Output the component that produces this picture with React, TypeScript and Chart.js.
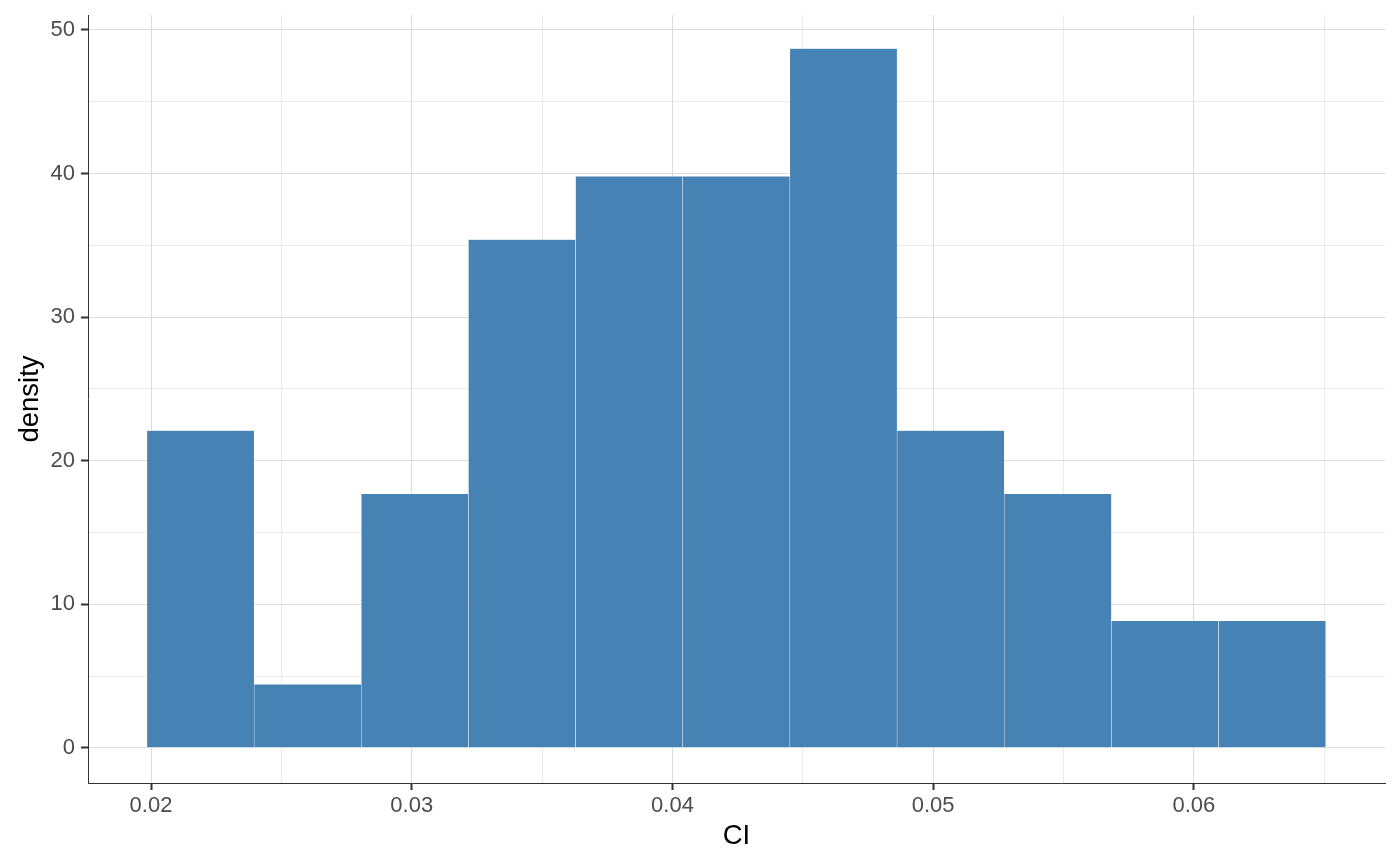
import React, { useEffect, useRef } from 'react';
import { Chart, registerables } from 'chart.js';

Chart.register(...registerables);

// Histogram bins (centres) and their densities
const binCenters = [0.0219, 0.02601, 0.03012, 0.03423, 0.03834, 0.04245, 0.04656, 0.05067, 0.05478, 0.05889, 0.063];
const densityValues = [22.1, 4.43, 17.7, 35.4, 39.8, 39.8, 48.7, 22.1, 17.7, 8.85, 8.85];

const xMajorTicks = [0.02, 0.03, 0.04, 0.05, 0.06];
const xMajorLabels = ['0.02', '0.03', '0.04', '0.05', '0.06'];
const xMinorTicks = [0.025, 0.035, 0.045, 0.055, 0.065];
const yMajorTicks = [0, 10, 20, 30, 40, 50];
const yMajorLabels = ['0', '10', '20', '30', '40', '50'];
const yMinorTicks = [5, 15, 25, 35, 45];

const X_MIN = 0.017583;
const X_MAX = 0.06733;
const Y_MIN = -2.44;
const Y_MAX = 51.04;

const FONT = '"Liberation Sans", Arial, sans-serif';

const findIndex = (arr: number[], v: number) => arr.findIndex((a) => Math.abs(a - v) < 1e-9);

export default function App() {
  const canvasRef = useRef<HTMLCanvasElement | null>(null);

  useEffect(() => {
    if (!canvasRef.current) return;
    const xAll = [...xMajorTicks, ...xMinorTicks].sort((a, b) => a - b);
    const yAll = [...yMajorTicks, ...yMinorTicks].sort((a, b) => a - b);

    const chart = new Chart(canvasRef.current, {
      type: 'bar',
      data: {
        datasets: [
          {
            data: binCenters.map((x, i) => ({ x, y: densityValues[i] })),
            backgroundColor: '#4682B4',
            borderColor: 'rgba(255,255,255,0.85)',
            borderWidth: 0.5,
            borderSkipped: false,
            barPercentage: 1,
            categoryPercentage: 1,
            grouped: false,
          } as any,
        ],
      },
      options: {
        animation: false,
        responsive: true,
        maintainAspectRatio: false,
        layout: { padding: { top: 15, right: 15, left: 0, bottom: 0 } },
        plugins: { legend: { display: false }, tooltip: { enabled: false } },
        scales: {
          x: {
            type: 'linear',
            min: X_MIN,
            max: X_MAX,
            offset: false,
            afterBuildTicks: (s: any) => {
              s.ticks = xAll.map((v) => ({ value: v }));
            },
            afterFit: (s: any) => {
              s.height = 83;
              s.paddingLeft = 0;
              s.paddingRight = 0;
            },
            ticks: {
              autoSkip: false,
              maxRotation: 0,
              padding: 3,
              color: '#4D4D4D',
              font: { family: FONT, size: 22 },
              callback: (v: any) => {
                const i = findIndex(xMajorTicks, Number(v));
                return i >= 0 ? xMajorLabels[i] : '';
              },
            },
            grid: {
              offset: false,
              color: (ctx: any) => (findIndex(xMajorTicks, ctx.tick?.value) >= 0 ? '#DCDCDC' : '#E6E6E6'),
              lineWidth: (ctx: any) => (findIndex(xMajorTicks, ctx.tick?.value) >= 0 ? 1 : 0.8),
              tickColor: (ctx: any) => (findIndex(xMajorTicks, ctx.tick?.value) >= 0 ? '#333333' : 'rgba(0,0,0,0)'),
              tickLength: 7,
              tickWidth: 2,
            },
            border: { color: '#333333', width: 1 },
            title: {
              display: true,
              text: 'CI',
              color: '#000000',
              font: { family: FONT, size: 27.5 },
              padding: { top: 2, bottom: 13.5 },
            },
          },
          y: {
            type: 'linear',
            min: Y_MIN,
            max: Y_MAX,
            afterBuildTicks: (s: any) => {
              s.ticks = yAll.map((v) => ({ value: v }));
            },
            afterFit: (s: any) => {
              s.width = 88;
              s.paddingTop = 0;
              s.paddingBottom = 0;
            },
            ticks: {
              autoSkip: false,
              padding: 6,
              color: '#4D4D4D',
              font: { family: FONT, size: 22 },
              callback: (v: any) => {
                const i = findIndex(yMajorTicks, Number(v));
                return i >= 0 ? yMajorLabels[i] : '';
              },
            },
            grid: {
              color: (ctx: any) => (findIndex(yMajorTicks, ctx.tick?.value) >= 0 ? '#DCDCDC' : '#E6E6E6'),
              lineWidth: (ctx: any) => (findIndex(yMajorTicks, ctx.tick?.value) >= 0 ? 1 : 0.8),
              tickColor: (ctx: any) => (findIndex(yMajorTicks, ctx.tick?.value) >= 0 ? '#333333' : 'rgba(0,0,0,0)'),
              tickLength: 7,
              tickWidth: 2,
            },
            border: { color: '#333333', width: 1 },
            title: {
              display: true,
              text: 'density',
              color: '#000000',
              font: { family: FONT, size: 27.5 },
              padding: { top: 13.5, bottom: 2 },
            },
          },
        },
      },
    });
    return () => chart.destroy();
  }, []);

  return (
    <div style={{ position: 'absolute', left: 0, top: 0, width: 1400, height: 866, background: '#FFFFFF' }}>
      <canvas ref={canvasRef} />
    </div>
  );
}
